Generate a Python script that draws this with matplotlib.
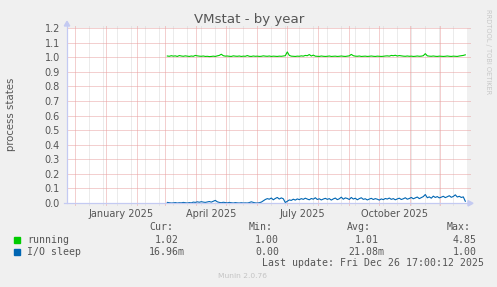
import datetime as dt
import numpy as np
import matplotlib
matplotlib.use("Agg")
import matplotlib.pyplot as plt
from matplotlib.patches import Rectangle, Polygon
from matplotlib.lines import Line2D

# ---------------- data ----------------
series_names = ["running", "I/O sleep"]
series_colors = ["#00CC00", "#0066B3"]
first_day = dt.date(2025, 3, 3)   # first sample (days counted from Jan 1 2025)
step_days = 2

running = [
    1.008, 1.006, 1.010, 1.007, 1.009, 1.005, 1.011, 1.008, 1.006, 1.009,
    1.007, 1.005, 1.008, 1.006, 1.012, 1.009, 1.007, 1.006, 1.008, 1.005,
    1.006, 1.004, 1.005, 1.007, 1.005, 1.009, 1.012, 1.020, 1.010, 1.007,
    1.008, 1.006, 1.005, 1.009, 1.007, 1.006, 1.008, 1.005, 1.007, 1.006,
    1.011, 1.006, 1.005, 1.008, 1.006, 1.007, 1.005, 1.006, 1.009, 1.007,
    1.006, 1.008, 1.005, 1.007, 1.006, 1.005, 1.007, 1.006, 1.008, 1.010,
    1.036, 1.012, 1.007, 1.006, 1.005, 1.007, 1.006, 1.009, 1.007, 1.012,
    1.010, 1.018, 1.008, 1.014, 1.007, 1.006, 1.005, 1.008, 1.006, 1.005,
    1.006, 1.008, 1.005, 1.006, 1.007, 1.005, 1.006, 1.008, 1.006, 1.005,
    1.007, 1.009, 1.019, 1.010, 1.007, 1.006, 1.008, 1.005, 1.006, 1.007,
    1.005, 1.006, 1.008, 1.006, 1.005, 1.007, 1.006, 1.005, 1.006, 1.008,
    1.009, 1.007, 1.012, 1.010, 1.013, 1.008, 1.011, 1.009, 1.007, 1.006,
    1.008, 1.006, 1.007, 1.005, 1.006, 1.008, 1.006, 1.007, 1.010, 1.024,
    1.009, 1.007, 1.006, 1.008, 1.006, 1.005, 1.007, 1.006, 1.005, 1.006,
    1.008, 1.006, 1.005, 1.007, 1.006, 1.005, 1.008, 1.010, 1.012, 1.016,
]
io_sleep = [
    0.004, 0.002, 0.000, 0.001, 0.003, 0.000, 0.002, 0.001, 0.004, 0.002,
    0.000, 0.003, 0.001, 0.006, 0.004, 0.008, 0.005, 0.009, 0.006, 0.004,
    0.007, 0.010, 0.006, 0.012, 0.018, 0.008, 0.004, 0.002, 0.005, 0.003,
    0.001, 0.004, 0.002, 0.000, 0.003, 0.001, 0.000, 0.002, 0.000, 0.001,
    0.000, 0.003, 0.008, 0.004, 0.001, 0.000, 0.002, 0.006, 0.015, 0.024,
    0.030, 0.026, 0.034, 0.022, 0.031, 0.038, 0.027, 0.035, 0.029, 0.003,
    0.012, 0.021, 0.018, 0.026, 0.020, 0.028, 0.023, 0.030, 0.025, 0.033,
    0.027, 0.022, 0.031, 0.026, 0.036, 0.024, 0.029, 0.021, 0.027, 0.032,
    0.025, 0.030, 0.020, 0.028, 0.034, 0.023, 0.029, 0.040, 0.026, 0.035,
    0.031, 0.024, 0.038, 0.027, 0.033, 0.022, 0.030, 0.036, 0.025, 0.029,
    0.021, 0.027, 0.032, 0.024, 0.030, 0.026, 0.020, 0.028, 0.023, 0.031,
    0.027, 0.034, 0.025, 0.030, 0.022, 0.028, 0.033, 0.024, 0.029, 0.036,
    0.026, 0.031, 0.038, 0.029, 0.035, 0.041, 0.030, 0.037, 0.044, 0.058,
    0.036, 0.042, 0.033, 0.047, 0.038, 0.044, 0.035, 0.040, 0.046, 0.037,
    0.043, 0.050, 0.039, 0.045, 0.056, 0.041, 0.046, 0.038, 0.042, 0.012,
]
cur_vals = ["1.02", "16.96m"]
min_vals = ["1.00", "0.00"]
avg_vals = ["1.01", "21.08m"]
max_vals = ["4.85", "1.00"]
y_ticks = [0.0, 0.1, 0.2, 0.3, 0.4, 0.5, 0.6, 0.7, 0.8, 0.9, 1.0, 1.1, 1.2]
month_labels = ["January 2025", "April 2025", "July 2025", "October 2025"]
title = "VMstat - by year"
ylabel = "process states"
last_update = "Last update: Fri Dec 26 17:00:12 2025"

# ---------------- layout helpers ----------------
W, H = 497, 287
def fx(px): return px / W
def fy(py): return 1 - py / H

base = dt.date(2025, 1, 1)
def dnum(d): return (d - base).days

fig = plt.figure(figsize=(W / 100, H / 100), dpi=100, facecolor="#F0F0F0")
ax = fig.add_axes([fx(67), fy(203), 400 / W, 175 / H])
ax.set_facecolor("white")
ax.set_xlim(-39.3, 360.7)
ax.set_ylim(0, 1.2)
for s in ax.spines.values():
    s.set_visible(False)

major_c = "#E9A0A0"
minor_c = "#D8D8D8"
dots = (0, (1, 1))
lw1 = 0.72

# month grid (major) and fortnight grid (minor)
months = []
d = dt.date(2024, 11, 1)
while d <= dt.date(2026, 1, 1):
    months.append(dnum(d))
    d = dt.date(d.year + (d.month // 12), d.month % 12 + 1, 1)
minors = []
m = dnum(dt.date(2024, 12, 15)) - 14 * 4
while m < 370:
    minors.append(m)
    m += 14
xlo, xhi = ax.get_xlim()
grid_kw = dict(lw=lw1, ls=dots, clip_on=False)
for m in minors:
    if xlo <= m <= xhi and m not in months:
        ax.axvline(m, ymin=-0.012, ymax=1.015, color=minor_c, zorder=0.5, **grid_kw)
for m in months:
    if xlo <= m <= xhi:
        ax.axvline(m, ymin=-0.012, ymax=1.015, color=major_c, zorder=0.6, **grid_kw)
for yv in y_ticks:
    ax.axhline(yv, xmin=0, xmax=1.007, color=major_c, zorder=0.6, **grid_kw)

# data lines
x0 = dnum(first_day)
xs = x0 + step_days * np.arange(len(running))
ax.plot(xs, running, color=series_colors[0], lw=0.8, zorder=3)
ax.plot(xs, io_sleep, color=series_colors[1], lw=0.8, zorder=3)

# ticks
ax.set_yticks(y_ticks)
ax.set_yticklabels([f"{v:.1f}" for v in y_ticks])
label_pos = []
for mo in [1, 4, 7, 10]:
    label_pos.append(dnum(dt.date(2025, mo, 1)) + 15)
ax.set_xticks(label_pos)
ax.set_xticklabels(month_labels)
ax.tick_params(axis="both", length=0, labelsize=7, labelcolor="#555555")
ax.tick_params(axis="y", pad=5)
ax.tick_params(axis="x", pad=4)

# axis lines and arrows
axis_c = "#C4CAF2"
fig.add_artist(Line2D([fx(67), fx(67)], [fy(203), fy(24)], color=axis_c, lw=0.9))
fig.add_artist(Line2D([fx(64), fx(469)], [fy(203.3), fy(203.3)], color=axis_c, lw=0.9))
fig.add_artist(Polygon([[fx(64.3), fy(26)], [fx(69.7), fy(26)], [fx(67), fy(21.3)]],
                       closed=True, color=axis_c, transform=fig.transFigure))
fig.add_artist(Polygon([[fx(468), fy(200.6)], [fx(468), fy(206)], [fx(473), fy(203.3)]],
                       closed=True, color=axis_c, transform=fig.transFigure))

# title, labels
fig.text(fx(249), fy(19), title, ha="center", va="center", fontsize=9.6, color="#555555")
fig.text(fx(11), fy(114), ylabel, rotation=90, ha="center", va="center",
         fontsize=7.3, color="#555555")
fig.text(fx(488), fy(52), "RRDTOOL / TOBI OETIKER", rotation=270, ha="center",
         va="center", fontsize=4.8, color="#C8C8C8")

# legend
mono = "DejaVu Sans Mono"
tc = "#555555"
fs = 7.1
fig.text(fx(149.3), fy(227.3), "Cur:", family=mono, fontsize=fs, color=tc, va="center")
fig.text(fx(248.3), fy(227.3), "Min:", family=mono, fontsize=fs, color=tc, va="center")
fig.text(fx(346.7), fy(227.3), "Avg:", family=mono, fontsize=fs, color=tc, va="center")
fig.text(fx(446.7), fy(227.3), "Max:", family=mono, fontsize=fs, color=tc, va="center")
rows_y = [240, 252.3]
cw = 5.96
for i, name in enumerate(series_names):
    yy = rows_y[i]
    fig.add_artist(Rectangle((fx(14), fy(yy + 2.7)), 6 / W, 5.6 / H,
                             color=series_colors[i], transform=fig.transFigure))
    fig.text(fx(27), fy(yy), name, family=mono, fontsize=fs, color=tc, va="center")
    for right_edge, vals in [(179, cur_vals), (278.8, min_vals),
                             (378.1, avg_vals), (476.5, max_vals)]:
        v = vals[i]
        n = len(v.rstrip("m"))
        left = right_edge - n * cw
        fig.text(fx(left), fy(yy), v, family=mono, fontsize=fs, color=tc, va="center")
fig.text(fx(261.7), fy(263.3), last_update, family=mono, fontsize=fs, color=tc, va="center")
fig.text(fx(243), fy(276), "Munin 2.0.76", ha="center", va="center",
         fontsize=5.4, color="#C4C4C4")

fig.savefig("out.png", dpi=100, facecolor=fig.get_facecolor())
